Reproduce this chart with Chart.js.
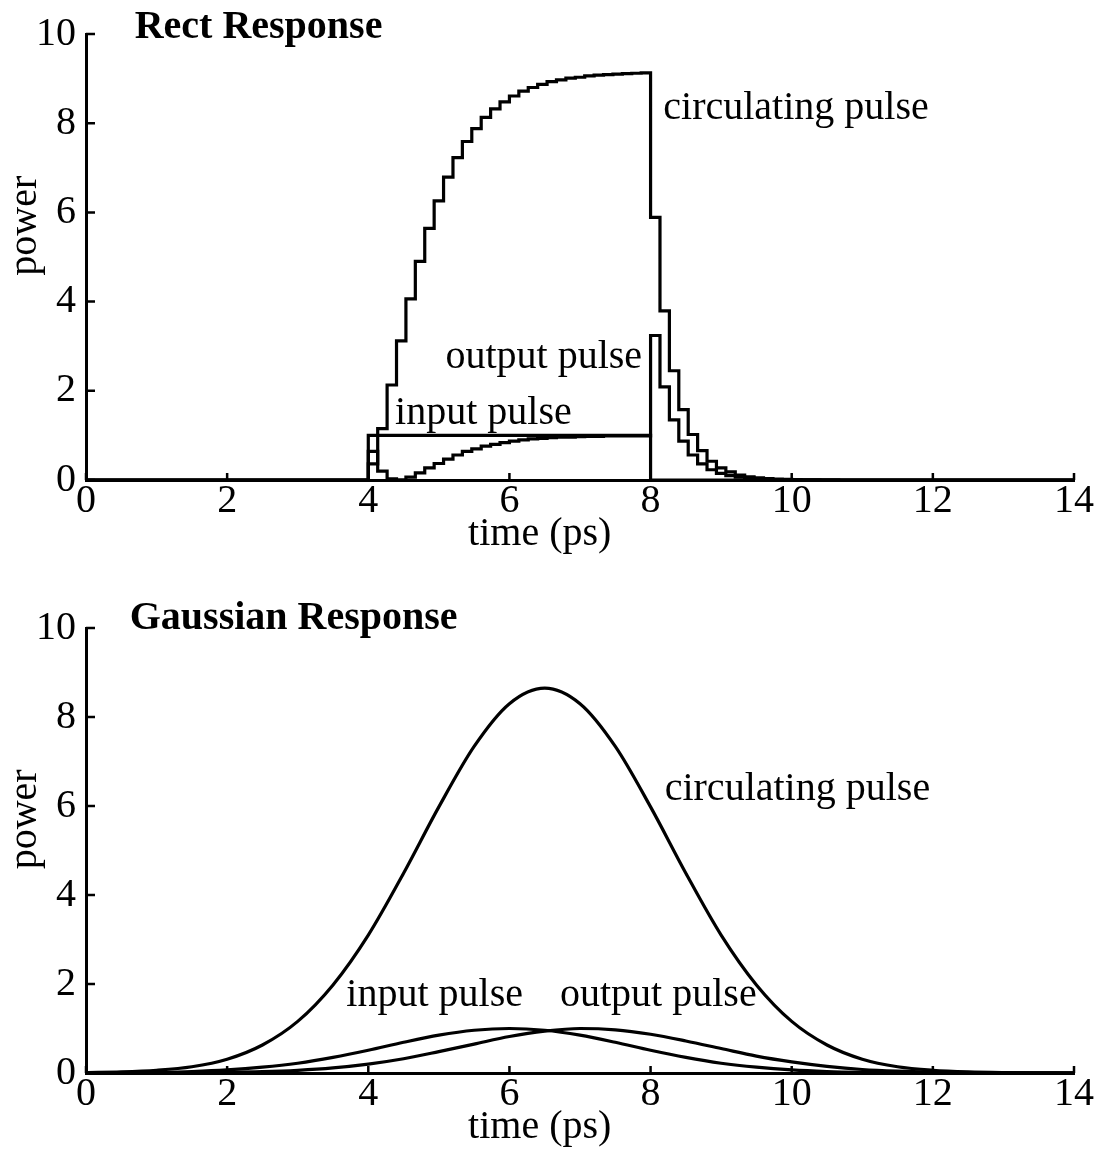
<!DOCTYPE html>
<html>
<head>
<meta charset="utf-8">
<script src="https://cdn.jsdelivr.net/npm/chart.js@4.4.1/dist/chart.umd.min.js"></script>
<style>
  html, body { margin: 0; padding: 0; background: #fff; }
  .panel { position: absolute; left: 0; width: 1105px; }
  #rectPanel { top: 0; height: 560px; }
  #gaussPanel { top: 594px; height: 559px; }
</style>
</head>
<body>
<div class="panel" id="rectPanel"><canvas id="rectChart"></canvas></div>
<div class="panel" id="gaussPanel"><canvas id="gaussChart"></canvas></div>
<script>
// --- Rect response: one value per ring round trip, starting when the pulse switches on ---
const rectOn = 4;
const rectOff = 8;
const roundTrip = 4 / 30;
const rectInputTimes = [0, 4, 8, 14];
const rectInputPower = [0, 1, 0, 0];
const rectCirculating = [
    0.36, 1.15, 2.13, 3.12, 4.06, 4.90, 5.64, 6.26, 6.79, 7.23,
    7.59, 7.88, 8.13, 8.32, 8.48, 8.61, 8.72, 8.80, 8.87, 8.93,
    8.97, 9.01, 9.03, 9.06, 9.08, 9.09, 9.10, 9.11, 9.12, 9.13,
    5.89, 3.79, 2.45, 1.58, 1.02, 0.66, 0.42, 0.27, 0.18, 0.11,
    0.073, 0.047, 0.030, 0.020, 0.013, 0.008, 0.005, 0.003, 0.002, 0.001
];
const rectOutput = [
    0.64, 0.20, 0.026, 0.004, 0.063, 0.16, 0.27, 0.37, 0.47, 0.56,
    0.64, 0.70, 0.76, 0.80, 0.84, 0.87, 0.90, 0.92, 0.93, 0.95,
    0.96, 0.96, 0.97, 0.98, 0.98, 0.99, 0.99, 0.99, 0.99, 0.99,
    3.24, 2.09, 1.35, 0.87, 0.56, 0.36, 0.23, 0.15, 0.097, 0.063,
    0.040, 0.026, 0.017, 0.011, 0.007, 0.005, 0.003, 0.002
];

// --- Gaussian response, sampled every 0.5 ps ---
const gaussTimes = [
    0, 0.5, 1, 1.5, 2, 2.5, 3, 3.5, 4, 4.5, 5, 5.5, 6, 6.5, 7,
    7.5, 8, 8.5, 9, 9.5, 10, 10.5, 11, 11.5, 12, 12.5, 13, 13.5, 14
];
const gaussInput = [
    0.0025, 0.0065, 0.016, 0.034, 0.069, 0.13, 0.22, 0.35, 0.51, 0.69, 0.85, 0.96, 1.0, 0.96, 0.85,
    0.69, 0.51, 0.35, 0.22, 0.13, 0.069, 0.034, 0.016, 0.0065, 0.0025, 0.001, 0, 0, 0
];
const gaussOutput = [
    0.0002, 0.0007, 0.002, 0.0054, 0.013, 0.029, 0.061, 0.115, 0.20, 0.32, 0.48, 0.65, 0.82, 0.94, 1.0,
    0.97, 0.87, 0.72, 0.55, 0.38, 0.25, 0.15, 0.079, 0.040, 0.018, 0.0077, 0.003, 0.001, 0.0004
];
const gaussCirculating = [
    0.0085, 0.024, 0.061, 0.14, 0.31, 0.63, 1.16, 1.98, 3.10, 4.49, 5.98, 7.34, 8.30, 8.65, 8.30,
    7.34, 5.98, 4.49, 3.10, 1.98, 1.16, 0.63, 0.31, 0.14, 0.061, 0.024, 0.0085, 0.003, 0.001
];

const xTicks = [0, 2, 4, 6, 8, 10, 12, 14];
const yTicks = [0, 2, 4, 6, 8, 10];

const FONT = '"Liberation Serif", "Times New Roman", serif';

// round-trip values -> stepped points, zero before switch-on and after the tail
function roundTripPoints(values) {
    const pts = [{ x: 0, y: 0 }];
    values.forEach((v, n) => pts.push({ x: rectOn + n * roundTrip, y: v }));
    pts.push({ x: rectOn + values.length * roundTrip, y: 0 });
    pts.push({ x: 14, y: 0 });
    return pts;
}

function pairs(xs, ys) {
    return xs.map((x, i) => ({ x: x, y: ys[i] }));
}

// ticks pointing into the plot area
const innerTicks = {
    id: 'innerTicks',
    afterDatasetsDraw(chart) {
        const { ctx, chartArea, scales: { x, y } } = chart;
        ctx.save();
        ctx.strokeStyle = '#000';
        ctx.lineWidth = 2.5;
        ctx.beginPath();
        xTicks.forEach(v => {
            const px = x.getPixelForValue(v);
            ctx.moveTo(px, chartArea.bottom);
            ctx.lineTo(px, chartArea.bottom - 7);
        });
        yTicks.forEach(v => {
            const py = y.getPixelForValue(v);
            ctx.moveTo(chartArea.left, py);
            ctx.lineTo(chartArea.left + 9, py);
        });
        ctx.stroke();
        ctx.restore();
    }
};

// curve labels, panel title and axis titles
const textLabels = {
    id: 'textLabels',
    afterDraw(chart, args, opts) {
        const { ctx, chartArea, scales: { x, y } } = chart;
        ctx.save();
        ctx.fillStyle = '#000';
        ctx.textBaseline = 'middle';
        opts.items.forEach(item => {
            ctx.font = (item.bold ? 'bold ' : '') + '40px ' + FONT;
            ctx.textAlign = item.align || 'left';
            ctx.fillText(item.text, x.getPixelForValue(item.x), y.getPixelForValue(item.y));
        });
        ctx.font = '40px ' + FONT;
        ctx.textAlign = 'center';
        ctx.fillText('time (ps)', x.getPixelForValue(6.43), chartArea.bottom + 54);
        ctx.translate(chartArea.left - 61, y.getPixelForValue(5.7));
        ctx.rotate(-Math.PI / 2);
        ctx.fillText('power', 0, 0);
        ctx.restore();
    }
};

function lineSet(data, stepped) {
    return {
        data: data,
        borderColor: '#000',
        borderWidth: 3.2,
        pointRadius: 0,
        fill: false,
        stepped: stepped ? 'before' : false,
        cubicInterpolationMode: stepped ? 'default' : 'monotone',
        clip: false
    };
}

function makeOptions(labels) {
    return {
        responsive: true,
        maintainAspectRatio: false,
        animation: false,
        layout: { padding: { top: 34, right: 31, left: 0, bottom: 0 } },
        plugins: {
            legend: { display: false },
            tooltip: { enabled: false },
            textLabels: { items: labels }
        },
        scales: {
            x: {
                type: 'linear',
                min: 0,
                max: 14,
                afterBuildTicks: s => { s.ticks = xTicks.map(v => ({ value: v })); },
                afterFit: s => { s.height = 80; },
                grid: { display: false, drawTicks: false },
                border: { display: true, color: '#000', width: 3 },
                ticks: { color: '#000', padding: -3, maxRotation: 0, font: { family: FONT, size: 40 } }
            },
            y: {
                min: 0,
                max: 10,
                afterBuildTicks: s => { s.ticks = yTicks.map(v => ({ value: v })); },
                afterFit: s => { s.width = 86; },
                grid: { display: false, drawTicks: false },
                border: { display: true, color: '#000', width: 3 },
                ticks: { color: '#000', padding: 10, font: { family: FONT, size: 40 } }
            }
        }
    };
}

document.addEventListener('DOMContentLoaded', function() {

    // --- Chart 1: Rect Response ---
    new Chart(document.getElementById('rectChart'), {
        type: 'line',
        data: {
            datasets: [
                lineSet(pairs(rectInputTimes, rectInputPower), true),
                lineSet(roundTripPoints(rectCirculating), true),
                lineSet(roundTripPoints(rectOutput), true)
            ]
        },
        options: makeOptions([
            { text: 'Rect Response', x: 0.69, y: 10.15, bold: true },
            { text: 'circulating pulse', x: 8.18, y: 8.34 },
            { text: 'output pulse', x: 7.88, y: 2.74, align: 'right' },
            { text: 'input pulse', x: 4.38, y: 1.48 }
        ]),
        plugins: [innerTicks, textLabels]
    });

    // --- Chart 2: Gaussian Response ---
    new Chart(document.getElementById('gaussChart'), {
        type: 'line',
        data: {
            datasets: [
                lineSet(pairs(gaussTimes, gaussInput), false),
                lineSet(pairs(gaussTimes, gaussOutput), false),
                lineSet(pairs(gaussTimes, gaussCirculating), false)
            ]
        },
        options: makeOptions([
            { text: 'Gaussian Response', x: 0.62, y: 10.22, bold: true },
            { text: 'circulating pulse', x: 8.2, y: 6.36 },
            { text: 'input pulse', x: 4.94, y: 1.75, align: 'center' },
            { text: 'output pulse', x: 8.11, y: 1.75, align: 'center' }
        ]),
        plugins: [innerTicks, textLabels]
    });
});
</script>
</body>
</html>
